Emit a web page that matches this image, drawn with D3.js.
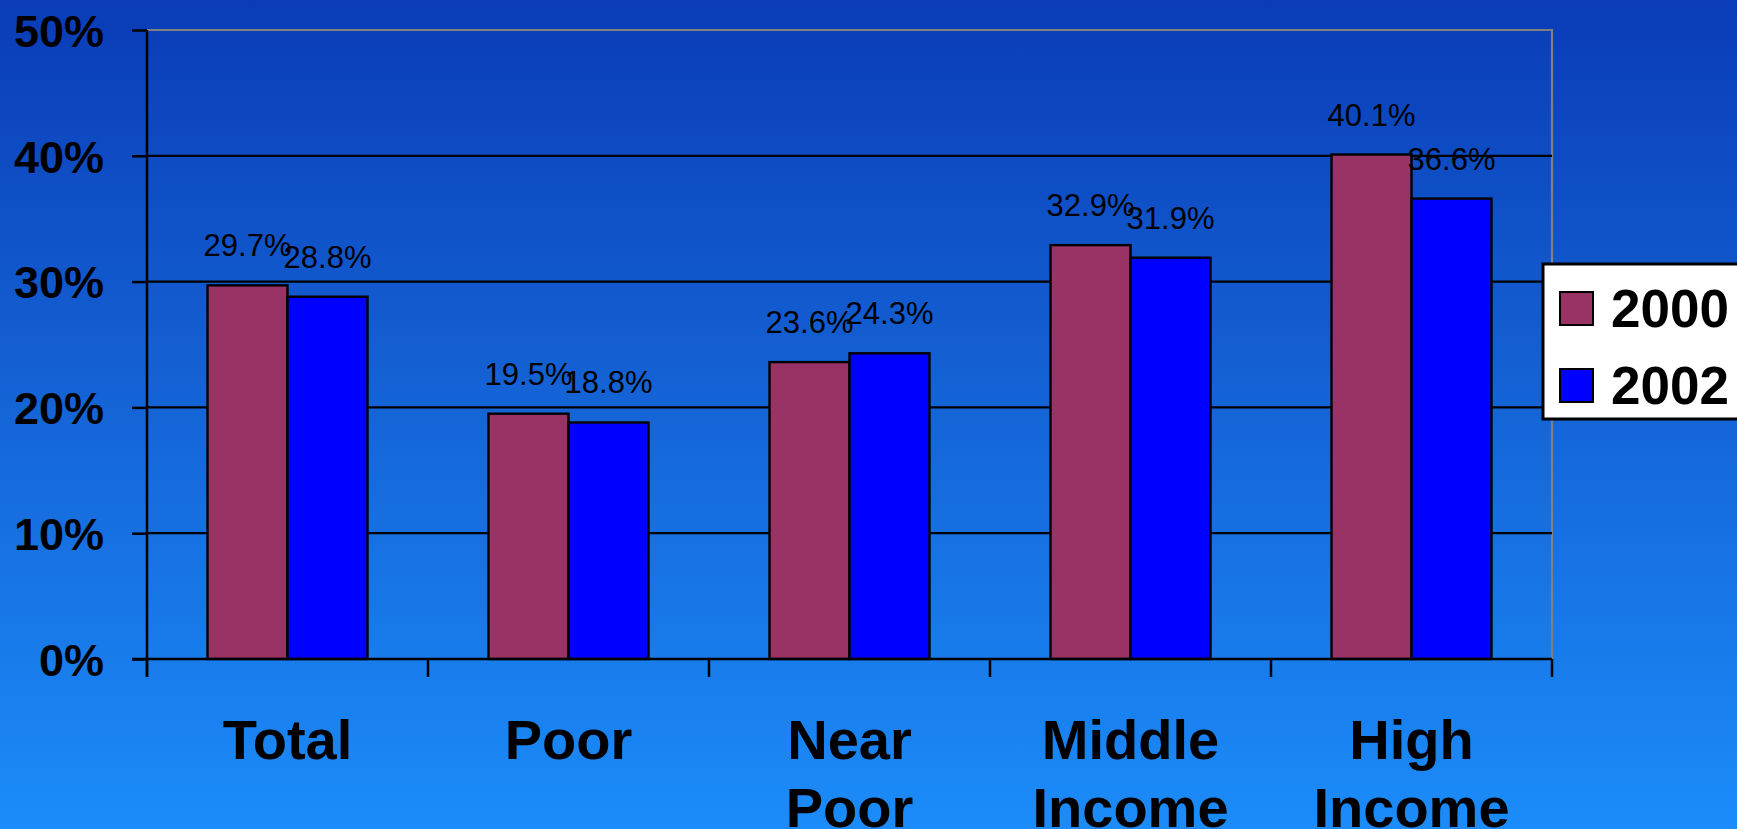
<!DOCTYPE html>
<html>
<head>
<meta charset="utf-8">
<script src="https://cdn.jsdelivr.net/npm/d3@7"></script>
<style>
  html, body { margin: 0; padding: 0; overflow: hidden; }
  svg { display: block; font-family: "Liberation Sans", Arial, sans-serif; }
</style>
</head>
<body>
<svg id="chart" width="1737" height="829"></svg>
<script>
// Share of people in each income group, 2000 vs 2002
const categories = [["Total"], ["Poor"], ["Near", "Poor"], ["Middle", "Income"], ["High", "Income"]];
const seriesNames = ["2000", "2002"];
const values2000 = [29.7, 19.5, 23.6, 32.9, 40.1];
const values2002 = [28.8, 18.8, 24.3, 31.9, 36.6];
const yTicks = [0, 10, 20, 30, 40, 50];

const seriesColors = { "2000": "#993366", "2002": "#0000ff" };
const W = 1737, H = 829;
const plot = { left: 147, right: 1552, top: 30, bottom: 659 };

const svg = d3.select("#chart");

// background gradient
const defs = svg.append("defs");
const grad = defs.append("linearGradient").attr("id", "bg").attr("x1", 0).attr("y1", 0).attr("x2", 0).attr("y2", 1);
grad.append("stop").attr("offset", "0%").attr("stop-color", "#0a3cb7");
grad.append("stop").attr("offset", "50%").attr("stop-color", "#1565d7");
grad.append("stop").attr("offset", "100%").attr("stop-color", "#1b8cf9");
svg.append("rect").attr("width", W).attr("height", H).attr("fill", "url(#bg)");

const catKeys = categories.map(c => c.join(" "));
const x0 = d3.scaleBand().domain(catKeys).range([plot.left, plot.right]);
const groupPad = (x0.bandwidth() - 160) / 2;
const x1 = d3.scaleBand().domain(seriesNames).range([groupPad, x0.bandwidth() - groupPad]);
const y = d3.scaleLinear().domain([0, 50]).range([plot.bottom, plot.top]);

// plot frame (top / right in grey)
svg.append("path")
  .attr("d", `M${plot.left},${plot.top}H${plot.right}V${plot.bottom}`)
  .attr("fill", "none").attr("stroke", "#808080").attr("stroke-width", 2.2);

// horizontal gridlines
svg.append("g").selectAll("line")
  .data(yTicks.filter(t => t > 0 && t < 50))
  .join("line")
  .attr("x1", plot.left).attr("x2", plot.right)
  .attr("y1", d => y(d)).attr("y2", d => y(d))
  .attr("stroke", "#000").attr("stroke-width", 2.2);

// y axis
const yAxis = svg.append("g").attr("transform", `translate(${plot.left},0)`)
  .call(d3.axisLeft(y).tickValues(yTicks).tickSize(15).tickPadding(28).tickFormat(d => d + "%"));
yAxis.select(".domain").attr("stroke", "#000").attr("stroke-width", 2.5)
  .attr("d", `M0,${plot.top}V${plot.bottom + 18}`);
yAxis.selectAll(".tick line").attr("stroke", "#000").attr("stroke-width", 2.5);
yAxis.selectAll(".tick text").attr("fill", "#000").attr("font-size", 45).attr("font-weight", "bold")
  .attr("font-family", "Liberation Sans, Arial, sans-serif").attr("dy", "0.36em");

// bars
const rows = catKeys.map((k, i) => ({ key: k, vals: [values2000[i], values2002[i]] }));
const groups = svg.append("g").selectAll("g").data(rows).join("g")
  .attr("transform", d => `translate(${x0(d.key)},0)`);
groups.selectAll("rect")
  .data(d => d.vals.map((v, j) => ({ s: seriesNames[j], v })))
  .join("rect")
  .attr("x", d => x1(d.s)).attr("width", x1.bandwidth())
  .attr("y", d => y(d.v)).attr("height", d => y(0) - y(d.v))
  .attr("fill", d => seriesColors[d.s]).attr("stroke", "#000").attr("stroke-width", 2.4);
groups.selectAll("text.val")
  .data(d => d.vals.map((v, j) => ({ s: seriesNames[j], v })))
  .join("text").attr("class", "val")
  .attr("x", d => x1(d.s) + x1.bandwidth() / 2)
  .attr("y", d => y(d.v) - 29)
  .attr("text-anchor", "middle").attr("font-size", 31).attr("fill", "#000")
  .text(d => d.v.toFixed(1) + "%");

// x axis baseline and ticks
const xAxis = svg.append("g");
xAxis.append("line").attr("x1", plot.left - 15).attr("x2", plot.right)
  .attr("y1", plot.bottom).attr("y2", plot.bottom).attr("stroke", "#000").attr("stroke-width", 2.5);
xAxis.selectAll("line.tk")
  .data(catKeys.map(k => x0(k)).concat([plot.right]))
  .join("line").attr("class", "tk")
  .attr("x1", d => d).attr("x2", d => d)
  .attr("y1", plot.bottom).attr("y2", plot.bottom + 18)
  .attr("stroke", "#000").attr("stroke-width", 2.5);

// category labels
const catText = svg.append("g").selectAll("text").data(categories).join("text")
  .attr("x", (d, i) => x0(catKeys[i]) + x0.bandwidth() / 2)
  .attr("y", 759)
  .attr("text-anchor", "middle").attr("font-size", 56).attr("font-weight", "bold").attr("fill", "#000");
catText.selectAll("tspan").data(d => d).join("tspan")
  .attr("x", function () { return this.parentNode.getAttribute("x"); })
  .attr("dy", (d, i) => i === 0 ? 0 : 68)
  .text(d => d);

// legend
const lg = svg.append("g");
lg.append("rect").attr("x", 1543).attr("y", 264).attr("width", 220).attr("height", 155)
  .attr("fill", "#fff").attr("stroke", "#000").attr("stroke-width", 3);
const items = lg.selectAll("g").data(seriesNames).join("g")
  .attr("transform", (d, i) => `translate(1560,${292 + i * 77})`);
items.append("rect").attr("width", 33).attr("height", 33)
  .attr("fill", d => seriesColors[d]).attr("stroke", "#000").attr("stroke-width", 2);
items.append("text").attr("x", 51).attr("y", 35)
  .attr("font-size", 53).attr("font-weight", "bold").attr("fill", "#000").text(d => d);
</script>
</body>
</html>
